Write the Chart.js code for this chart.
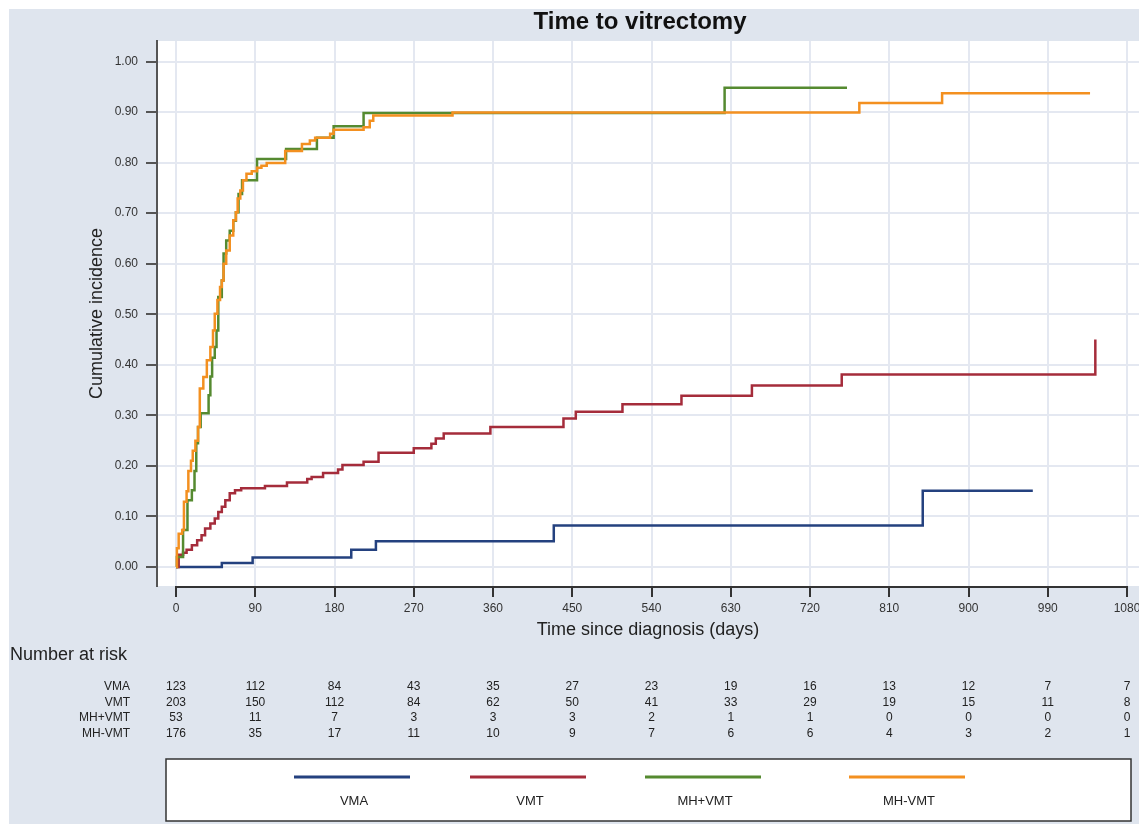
<!DOCTYPE html>
<html>
<head>
<meta charset="utf-8">
<title>Time to vitrectomy</title>
<script src="https://cdn.jsdelivr.net/npm/chart.js@4.4.1/dist/chart.umd.min.js"></script>
<style>
    html, body { margin: 0; padding: 0; background: #ffffff; }
    #chart { display: block; }
</style>
</head>
<body>
<canvas id="chart" width="1139" height="824"></canvas>
<script>
// cumulative incidence steps (days, proportion)
const vmaTimes = [0, 52, 87, 199, 227, 429, 848, 973];
const vmaValues = [0, 0.008, 0.019, 0.034, 0.051, 0.082, 0.151, 0.151];

const vmtTimes = [0, 3, 8, 12, 18, 24, 29, 33, 39, 44, 48, 52, 56, 61, 67, 74, 101, 126, 149, 154, 167, 184, 189, 213, 230, 270, 290, 295, 304, 357, 440, 454, 507, 574, 654, 756, 1044];
const vmtValues = [0, 0.024, 0.028, 0.034, 0.043, 0.053, 0.063, 0.076, 0.086, 0.096, 0.109, 0.119, 0.132, 0.146, 0.152, 0.156, 0.160, 0.167, 0.174, 0.178, 0.186, 0.193, 0.202, 0.208, 0.226, 0.235, 0.244, 0.254, 0.264, 0.277, 0.294, 0.307, 0.322, 0.339, 0.359, 0.381, 0.450];

const mhPlusTimes = [0, 1, 8, 13, 18, 21, 23, 25, 28, 37, 39, 41, 44, 46, 48, 52, 54, 57, 61, 65, 68, 71, 75, 92, 125, 160, 179, 213, 623, 762];
const mhPlusValues = [0, 0.020, 0.073, 0.132, 0.152, 0.190, 0.245, 0.277, 0.304, 0.340, 0.377, 0.414, 0.435, 0.468, 0.534, 0.567, 0.620, 0.646, 0.665, 0.685, 0.702, 0.738, 0.765, 0.807, 0.827, 0.849, 0.872, 0.898, 0.948, 0.948];

const mhMinusTimes = [0, 1, 3, 7, 9, 12, 14, 17, 19, 22, 25, 27, 31, 35, 39, 42, 44, 47, 50, 52, 54, 57, 61, 65, 68, 70, 73, 76, 80, 86, 92, 97, 103, 124, 143, 152, 158, 175, 179, 213, 220, 224, 314, 776, 870, 1038];
const mhMinusValues = [0, 0.037, 0.066, 0.073, 0.129, 0.150, 0.190, 0.210, 0.230, 0.250, 0.277, 0.353, 0.376, 0.409, 0.435, 0.468, 0.501, 0.528, 0.554, 0.567, 0.600, 0.626, 0.656, 0.686, 0.702, 0.729, 0.745, 0.765, 0.778, 0.783, 0.790, 0.794, 0.799, 0.823, 0.837, 0.844, 0.849, 0.857, 0.865, 0.870, 0.883, 0.893, 0.899, 0.918, 0.937, 0.937];

// number at risk table
const riskTimes = [0, 90, 180, 270, 360, 450, 540, 630, 720, 810, 900, 990, 1080];
const riskLabels = ["VMA", "VMT", "MH+VMT", "MH-VMT"];
const riskVma = [123, 112, 84, 43, 35, 27, 23, 19, 16, 13, 12, 7, 7];
const riskVmt = [203, 150, 112, 84, 62, 50, 41, 33, 29, 19, 15, 11, 8];
const riskMhPlus = [53, 11, 7, 3, 3, 3, 2, 1, 1, 0, 0, 0, 0];
const riskMhMinus = [176, 35, 17, 11, 10, 9, 7, 6, 6, 4, 3, 2, 1];

const yTicks = [0, 0.1, 0.2, 0.3, 0.4, 0.5, 0.6, 0.7, 0.8, 0.9, 1.0];

const FONT = "'Liberation Sans', Arial, Helvetica, sans-serif";
Chart.defaults.font.family = FONT;

function toPoints(times, values) {
    return times.map((t, i) => ({ x: t, y: values[i] }));
}

function series(label, times, values, color, order) {
    return {
        label: label,
        data: toPoints(times, values),
        borderColor: color,
        backgroundColor: color,
        borderWidth: 2.5,
        pointRadius: 0,
        stepped: true,
        fill: false,
        order: order,
    };
}

const frame = {
    id: "frame",
    beforeDraw(chart) {
        const { ctx, chartArea, width, height } = chart;
        ctx.save();
        ctx.fillStyle = "#ffffff";
        ctx.fillRect(0, 0, width, height);
        ctx.fillStyle = "#dfe5ee";
        ctx.fillRect(9, 9, width - 9, height - 9);
        ctx.fillStyle = "#ffffff";
        ctx.fillRect(chartArea.left, chartArea.top, chartArea.right - chartArea.left, chartArea.bottom - chartArea.top);
        ctx.restore();
    },
    afterDraw(chart) {
        const { ctx, chartArea } = chart;
        const xs = chart.scales.x;
        ctx.save();

        // x axis line only spans the tick range
        ctx.strokeStyle = "#333333";
        ctx.lineWidth = 2;
        ctx.beginPath();
        ctx.moveTo(xs.getPixelForValue(riskTimes[0]) - 1, chartArea.bottom + 1);
        ctx.lineTo(xs.getPixelForValue(riskTimes[riskTimes.length - 1]) + 1, chartArea.bottom + 1);
        ctx.stroke();

        // title
        ctx.fillStyle = "#111111";
        ctx.font = "bold 24px " + FONT;
        ctx.textAlign = "center";
        ctx.textBaseline = "middle";
        ctx.fillText("Time to vitrectomy", 640, 22);

        // number at risk
        ctx.fillStyle = "#222222";
        ctx.font = "18px " + FONT;
        ctx.textAlign = "left";
        ctx.fillText("Number at risk", 10, 655);

        const rows = [riskVma, riskVmt, riskMhPlus, riskMhMinus];
        const rowY = [687, 702.5, 718, 733.5];
        ctx.font = "12px " + FONT;
        rows.forEach((row, r) => {
            ctx.textAlign = "right";
            ctx.fillText(riskLabels[r], 130, rowY[r]);
            ctx.textAlign = "center";
            row.forEach((n, i) => {
                ctx.fillText(String(n), xs.getPixelForValue(riskTimes[i]), rowY[r]);
            });
        });

        // legend box
        ctx.fillStyle = "#ffffff";
        ctx.fillRect(166, 759, 965, 62);
        ctx.strokeStyle = "#333333";
        ctx.lineWidth = 1.5;
        ctx.strokeRect(166, 759, 965, 62);

        const keyX = [294, 470, 645, 849];
        const keyW = 116;
        chart.data.datasets.forEach((ds, i) => {
            ctx.strokeStyle = ds.borderColor;
            ctx.lineWidth = 3;
            ctx.beginPath();
            ctx.moveTo(keyX[i], 777);
            ctx.lineTo(keyX[i] + keyW, 777);
            ctx.stroke();
            ctx.fillStyle = "#222222";
            ctx.font = "13px " + FONT;
            ctx.textAlign = "center";
            ctx.fillText(ds.label, keyX[i] + keyW / 2 + 2, 801);
        });

        ctx.restore();
    },
};

const ctx = document.getElementById("chart").getContext("2d");

const chart = new Chart(ctx, {
    type: "line",
    data: {
        datasets: [
            series("VMA", vmaTimes, vmaValues, "#24417f", 3),
            series("VMT", vmtTimes, vmtValues, "#a52c3b", 2),
            series("MH+VMT", mhPlusTimes, mhPlusValues, "#558a30", 1),
            series("MH-VMT", mhMinusTimes, mhMinusValues, "#f39020", 0),
        ],
    },
    options: {
        responsive: false,
        animation: false,
        layout: {
            padding: { top: 41, left: 0, right: 0, bottom: 178 },
        },
        plugins: {
            legend: { display: false },
            tooltip: { enabled: false },
            title: { display: false },
        },
        scales: {
            x: {
                type: "linear",
                min: -21.6,
                max: 1093.6,
                afterBuildTicks: (scale) => {
                    scale.ticks = riskTimes.map((v) => ({ value: v }));
                },
                afterFit: (scale) => {
                    scale.height = 60;
                    scale.paddingLeft = 0;
                    scale.paddingRight = 0;
                },
                border: { display: false },
                grid: {
                    color: "#e4e8f1",
                    lineWidth: 2,
                    tickColor: "#333333",
                    tickWidth: 2,
                    tickLength: 11,
                },
                ticks: {
                    color: "#333333",
                    font: { size: 12 },
                    padding: 4,
                    maxRotation: 0,
                    callback: (value) => String(value),
                },
                title: {
                    display: true,
                    text: "Time since diagnosis (days)",
                    color: "#222222",
                    font: { size: 18 },
                    padding: { top: 0, bottom: 5 },
                },
            },
            y: {
                type: "linear",
                min: -0.0376,
                max: 1.0406,
                afterBuildTicks: (scale) => {
                    scale.ticks = yTicks.map((v) => ({ value: v }));
                },
                afterFit: (scale) => {
                    scale.width = 157;
                    scale.paddingTop = 0;
                    scale.paddingBottom = 0;
                },
                border: { display: true, color: "#555555", width: 2 },
                grid: {
                    color: "#e4e8f1",
                    lineWidth: 2,
                    tickColor: "#555555",
                    tickWidth: 2,
                    tickLength: 11,
                },
                ticks: {
                    color: "#333333",
                    font: { size: 12 },
                    padding: 8,
                    callback: (value) => Number(value).toFixed(2),
                },
                title: {
                    display: true,
                    text: "Cumulative incidence",
                    color: "#222222",
                    font: { size: 18 },
                    padding: { top: 86, bottom: 0 },
                },
            },
        },
    },
    plugins: [frame],
});
</script>
</body>
</html>
